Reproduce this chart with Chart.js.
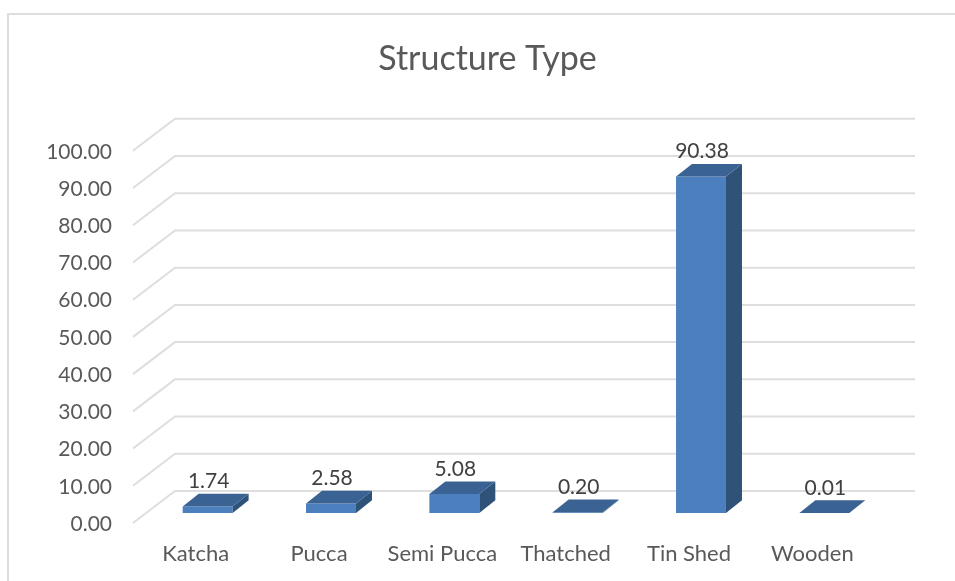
<!DOCTYPE html>
<html>
<head>
<meta charset="utf-8">
<title>Structure Type</title>
<script src="https://cdn.jsdelivr.net/npm/chart.js@4"></script>
<style>
    html, body { margin: 0; padding: 0; background: #fff; overflow: hidden; }
    #frame { position: absolute; left: 7px; top: 13px; right: 0; bottom: 0; border-left: 2px solid #dedede; border-top: 2px solid #dedede; }
    #chart { position: absolute; left: 0; top: 0; }
</style>
</head>
<body>
<div id="frame"></div>
<canvas id="chart" width="955" height="581"></canvas>
<script>
let categories = ['Katcha', 'Pucca', 'Semi Pucca', 'Thatched', 'Tin Shed', 'Wooden']
let shares = [1.74, 2.58, 5.08, 0.20, 90.38, 0.01]

let color_front = '#4c7fbe'
let color_top = '#3a6293'
let color_side = '#2f5279'
let color_grid = '#dedede'
let color_axis_text = '#595959'
let color_value_text = '#404040'
let font_name = 'Lato, "Open Sans", sans-serif'

// the floor of the fake 3D box, relative to the plane the bars stand in
let floorFront = { x: 133, dy: 10 }
let floorBack = { x: 175, dy: -22 }
let wallEnd = 915
let barDepth = { dx: 16, dy: -12.7 }

let wallPlugin = {
    id: 'wall',
    // the narrow y axis keeps the title centred, but its labels need room or they get clipped
    afterLayout: function (chart) {
        chart.scales.y.left = 30
    },
    beforeDatasetsDraw: function (chart) {
        let ctx = chart.ctx
        let y = chart.scales.y
        ctx.save()
        ctx.strokeStyle = color_grid
        ctx.lineWidth = 2
        y.ticks.forEach(function (tick) {
            let py = y.getPixelForValue(tick.value)
            ctx.beginPath()
            ctx.moveTo(floorFront.x, py + floorFront.dy)
            ctx.lineTo(floorBack.x, py + floorBack.dy)
            ctx.lineTo(wallEnd, py + floorBack.dy)
            ctx.stroke()
        })
        ctx.restore()
    }
}

let barSidesPlugin = {
    id: 'barSides',
    afterDatasetsDraw: function (chart) {
        let ctx = chart.ctx
        let bars = chart.getDatasetMeta(0).data
        ctx.save()
        bars.forEach(function (bar, i) {
            let left = bar.x - bar.width / 2
            let right = bar.x + bar.width / 2
            let top = bar.y
            let base = bar.base

            ctx.fillStyle = color_side
            ctx.beginPath()
            ctx.moveTo(right, top)
            ctx.lineTo(right + barDepth.dx, top + barDepth.dy)
            ctx.lineTo(right + barDepth.dx, base + barDepth.dy)
            ctx.lineTo(right, base)
            ctx.closePath()
            ctx.fill()

            ctx.fillStyle = color_top
            ctx.beginPath()
            ctx.moveTo(left, top)
            ctx.lineTo(left + barDepth.dx, top + barDepth.dy)
            ctx.lineTo(right + barDepth.dx, top + barDepth.dy)
            ctx.lineTo(right, top)
            ctx.closePath()
            ctx.fill()

            ctx.fillStyle = color_value_text
            ctx.font = '21px ' + font_name
            ctx.textAlign = 'center'
            ctx.textBaseline = 'middle'
            ctx.fillText(shares[i].toFixed(2), bar.x + 1, top - 25)
        })
        ctx.restore()
    }
}

let ctx = document.getElementById('chart').getContext('2d')

window.structureChart = new Chart(ctx, {
    type: 'bar',
    data: {
        labels: categories,
        datasets: [{
            data: shares,
            backgroundColor: color_front,
            barPercentage: 0.405,
            categoryPercentage: 1
        }]
    },
    options: {
        responsive: false,
        animation: false,
        layout: { padding: { left: 89, right: 69, top: 0, bottom: 0 } },
        plugins: {
            legend: { display: false },
            tooltip: { enabled: false },
            title: {
                display: true,
                text: 'Structure Type',
                color: color_axis_text,
                font: { family: font_name, size: 34, weight: 'normal' },
                padding: { top: 39, bottom: 61 }
            }
        },
        scales: {
            x: {
                grid: { display: false, drawTicks: false },
                border: { display: false },
                afterFit: function (scale) { scale.height = 68 },
                ticks: {
                    color: color_axis_text,
                    font: { family: font_name, size: 22 },
                    padding: 28,
                    labelOffset: -12,
                    maxRotation: 0
                }
            },
            y: {
                min: 0,
                max: 100,
                grid: { display: false, drawTicks: false },
                border: { display: false },
                afterFit: function (scale) { scale.width = 57 },
                ticks: {
                    stepSize: 10,
                    color: color_axis_text,
                    font: { family: font_name, size: 21 },
                    padding: 34,
                    labelOffset: 11,
                    callback: function (value) { return value.toFixed(2) }
                }
            }
        }
    },
    plugins: [wallPlugin, barSidesPlugin]
})
</script>
</body>
</html>
